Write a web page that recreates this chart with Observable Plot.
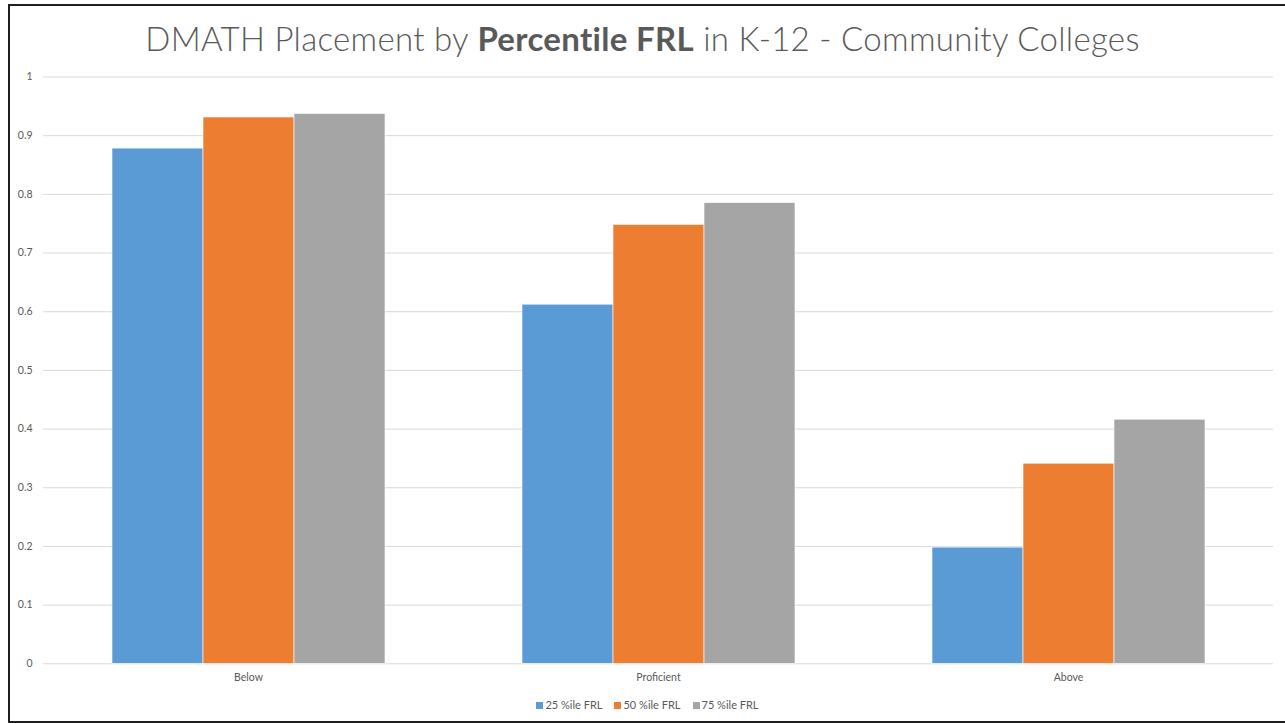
<!DOCTYPE html>
<html>
<head>
<meta charset="utf-8">
<script src="https://cdn.jsdelivr.net/npm/d3@7"></script>
<script src="https://cdn.jsdelivr.net/npm/@observablehq/plot@0.6"></script>
<style>
  html, body { margin: 0; padding: 0; background: #fff; overflow: hidden; }
  body { width: 1285px; height: 723px; position: relative; font-family: Lato, "Open Sans", sans-serif; }
  #frame {
    position: absolute; left: 8px; top: 4px; width: 1300px; height: 719px;
    box-sizing: border-box; border: 2px solid #1e1e1e; border-right: none;
  }
  #title {
    position: absolute; left: 0; top: 18px; width: 1285px; text-align: center;
    font-size: 33px; font-weight: 300; letter-spacing: 0.3px; color: #595959; white-space: nowrap;
  }
  #title b { font-weight: 700; }
  #chart { position: absolute; left: 0; top: 0; }
  #legend {
    position: absolute; left: 5px; top: 698px; width: 1285px; text-align: center;
    font-size: 11px; color: #595959; white-space: nowrap;
  }
  #legend .item { display: inline-block; margin: 0 6px; }
  #legend .sw { display: inline-block; width: 7px; height: 7px; margin-right: 2px; }
</style>
</head>
<body>
<div id="frame"></div>
<div id="chart"></div>
<div id="title">DMATH Placement by <b>Percentile FRL</b> in K-12 - Community Colleges</div>
<div id="legend"></div>
<script>
// Placement levels along the bottom axis
const categories = ["Below", "Proficient", "Above"];
// Percentile groups (legend order)
const series = ["25 %ile FRL", "50 %ile FRL", "75 %ile FRL"];
const colors = ["#5B9BD5", "#ED7D31", "#A5A5A5"];
// Share placed, one value per category for each percentile group
const p25 = [0.878, 0.612, 0.198];
const p50 = [0.931, 0.748, 0.341];
const p75 = [0.937, 0.785, 0.416];
// Y axis tick values
const yTicks = [0, 0.1, 0.2, 0.3, 0.4, 0.5, 0.6, 0.7, 0.8, 0.9, 1];
const yTickLabels = ["0", "0.1", "0.2", "0.3", "0.4", "0.5", "0.6", "0.7", "0.8", "0.9", "1"];

const valuesBySeries = [p25, p50, p75];
const rows = [];
categories.forEach((c, i) => {
  series.forEach((s, j) => rows.push({category: c, series: s, value: valuesBySeries[j][i]}));
});

const chart = Plot.plot({
  width: 1285,
  height: 690,
  marginLeft: 43,
  marginRight: 12,
  marginTop: 76.5,
  marginBottom: 26.7,
  style: {fontFamily: "Lato, 'Open Sans', sans-serif", fontSize: "10.5px", color: "#595959", background: "transparent"},
  fx: {domain: categories, padding: 0, axis: "bottom", tickSize: 0, tickPadding: 10, label: null},
  x: {domain: series, paddingInner: 0, paddingOuter: 0.745, axis: null},
  y: {domain: [0, 1], ticks: yTicks, tickSize: 0, tickPadding: 11, label: null,
      tickFormat: (d) => yTickLabels[yTicks.indexOf(d)] ?? d},
  color: {domain: series, range: colors},
  marks: [
    Plot.ruleY(yTicks, {stroke: "#d9d9d9", strokeWidth: 1}),
    Plot.barY(rows, {fx: "category", x: "series", y: "value", fill: "series",
                     stroke: "#ffffff", strokeWidth: 0.6, inset: 0})
  ]
});
document.getElementById("chart").appendChild(chart);

// Legend
const legend = document.getElementById("legend");
series.forEach((s, i) => {
  const item = document.createElement("span");
  item.className = "item";
  const sw = document.createElement("span");
  sw.className = "sw";
  sw.style.background = colors[i];
  item.appendChild(sw);
  item.appendChild(document.createTextNode(s));
  legend.appendChild(item);
});
</script>
</body>
</html>
